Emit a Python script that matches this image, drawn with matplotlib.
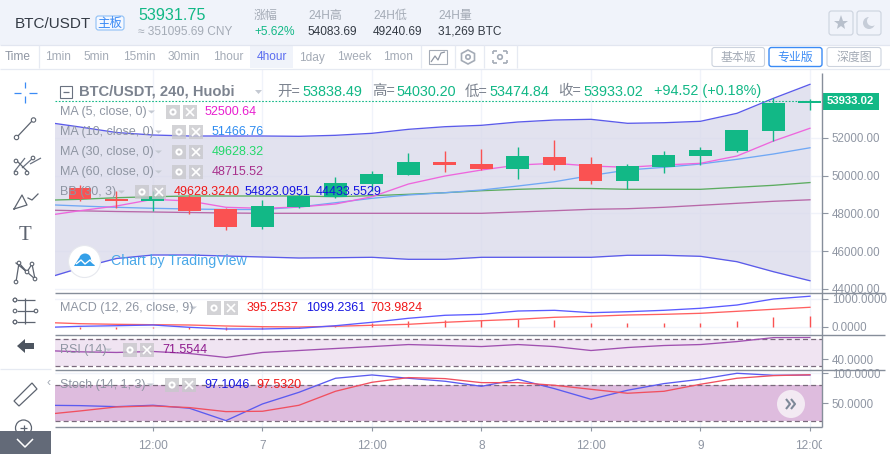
import numpy as np
import matplotlib
matplotlib.use('Agg')
import matplotlib.pyplot as plt
from matplotlib.patches import Rectangle, Circle, FancyBboxPatch, Polygon

plt.rcParams['font.family'] = ['Liberation Sans', 'Noto Sans CJK SC', 'DejaVu Sans']

# candles, one per 4 hours
opens = [49323, 48757, 48651, 48863, 48228, 47276, 48334, 48879, 49551, 50027, 50714,
         50609, 50344, 50979, 50609, 49710, 50450, 51032, 51296, 52354, 53838.49]
closes = [48757, 48651, 48879, 48107, 47276, 48387, 48916, 49604, 50080, 50714, 50556,
          50344, 51032, 50556, 49710, 50503, 51085, 51350, 52407, 53836, 53933.02]
highs = [49498, 49196, 49180, 48969, 48297, 48704, 49000, 49905, 50238, 51190, 51296,
         51402, 51508, 51878, 50979, 50609, 51296, 51508, 52407, 54100, 54030.20]
lows = [48651, 48265, 48117, 47964, 47117, 47170, 48300, 48800, 49200, 50027, 50185,
        50291, 49815, 50291, 49551, 49286, 50133, 50556, 51243, 51825, 53474.84]

# indicators start one bar before the first visible candle
bb_upper = [52841, 52566, 52275, 52143, 52090, 52090, 52090, 52074, 52127, 52233, 52444,
            52582, 52656, 52831, 52936, 52973, 52762, 52793, 52868, 53291, 54084, 54823]
bb_lower = [44525, 45107, 45610, 45795, 45795, 45742, 45689, 45636, 45652, 45673, 45567,
            45567, 45673, 45673, 45673, 45673, 45779, 45779, 45726, 45440, 44911, 44433]
ma5 = [47858, 48138, 48387, 48741, 48651, 48318, 48265, 48334, 48493, 48879, 49551,
       49974, 50291, 50556, 50646, 50503, 50434, 50556, 50646, 51032, 51825, 52500]
ma10 = [48466, 48387, 48318, 48265, 48228, 48202, 48202, 48334, 48561, 48794, 48969,
        49090, 49233, 49445, 49672, 50000, 50291, 50434, 50609, 50857, 51138, 51467]
ma30 = [48688, 48741, 48826, 48879, 48916, 48916, 48916, 48916, 48879, 48932, 49006,
        49090, 49196, 49270, 49323, 49313, 49270, 49270, 49270, 49376, 49482, 49628]
ma60 = [48175, 48133, 48096, 48070, 48043, 48017, 48001, 48001, 48001, 48001, 48001,
        48001, 48001, 48070, 48138, 48212, 48244, 48318, 48424, 48530, 48636, 48716]

macd = [-18, 25, 46, 71, -11, -71, -71, -46, 46, 168, 311,
        418, 453, 571, 596, 511, 546, 596, 668, 785, 1000, 1099]
signal = [164, 118, 96, 82, 71, 36, 11, 0, 25, 61, 96,
          168, 225, 275, 346, 382, 428, 453, 489, 560, 632, 704]
hist = [-83, -83, -40, -60, -100, -80, -45, 70, 143, 214, 262,
        250, 274, 250, 143, 143, 143, 143, 214, 357, 395]

rsi = [52.8, 50.9, 50, 51.4, 48.5, 42.8, 50, 52.8, 55.7, 58.5, 61.4,
       60, 58.5, 61.4, 58.5, 52.8, 57.1, 60, 61.4, 65.7, 71.4, 71.55]
stoch_k = [46.7, 46.1, 44.4, 46.7, 41.7, 21.1, 48.9, 68.3, 91.7, 97.2, 91.7,
           86.7, 78.3, 90, 74.4, 56.7, 71.7, 82.8, 90, 100, 96.7, 97.10]
stoch_d = [31.1, 37.2, 43.9, 45.6, 42.8, 36.1, 36.7, 46.7, 70, 85, 92.8,
           91.1, 84.4, 84.4, 80, 73.3, 66.7, 70, 81.7, 91.7, 96.1, 97.53]

time_ticks = [2, 5, 8, 11, 14, 17, 20]
time_labels = ['12:00', '7', '12:00', '8', '12:00', '9', '12:00']
price_ticks = [44000, 46000, 48000, 50000, 52000]
macd_ticks = [0, 1000]
rsi_ticks = [40]
stoch_ticks = [50, 100]

W, H = 890, 454
GREEN = '#12b886'
RED = '#fa5252'
GRAY = '#8f96a3'
GRID = '#f0f3fa'

fig = plt.figure(figsize=(W / 100, H / 100), dpi=100, facecolor='white')


def panel(top, bottom, ylim, ticks, fmt):
    ax = fig.add_axes([55 / W, 1 - bottom / H, (822 - 55) / W, (bottom - top) / H])
    ax.set_xlim(-0.685, 20.33)
    ax.set_ylim(*ylim)
    ax.set_axisbelow(True)
    ax.grid(True, color=GRID, lw=1)
    for s in ax.spines.values():
        s.set_visible(False)
    ax.yaxis.tick_right()
    ax.set_yticks(ticks, labels=[fmt % t for t in ticks])
    ax.set_xticks(time_ticks, labels=[])
    ax.tick_params(axis='y', length=4, width=0.8, color=GRAY, labelcolor=GRAY, labelsize=8.3, pad=3)
    ax.tick_params(axis='x', length=0)
    return ax


x_bars = np.arange(len(opens))
x_lines = np.arange(-1, len(opens))

# main price panel
ax = panel(69, 292.5, (43811, 55635), price_ticks, '%.2f')
ax.fill_between(x_lines, bb_lower, bb_upper, color='#d9d9ea', alpha=0.75, lw=0, zorder=1)
ax.plot(x_lines, bb_upper, color='#5b5bea', lw=0.95, zorder=2)
ax.plot(x_lines, bb_lower, color='#5b5bea', lw=0.95, zorder=2)
ax.plot(x_lines, ma60, color='#b868a8', lw=0.95, zorder=2)
ax.plot(x_lines, ma30, color='#5cac60', lw=0.95, zorder=2)
ax.plot(x_lines, ma10, color='#70a8f5', lw=0.95, zorder=2)
ax.plot(x_lines, ma5, color='#ee66dd', lw=0.95, zorder=2)
o = np.array(opens)
c = np.array(closes)
colors = [GREEN if up else RED for up in c >= o]
ax.vlines(x_bars, lows, highs, colors=colors, lw=1, zorder=3)
ax.bar(x_bars, np.abs(c - o), bottom=np.minimum(o, c), width=0.63, color=colors, lw=0, zorder=3)
ax.axhline(closes[-1], color=GREEN, lw=0.8, ls=(0, (1.5, 1.5)), zorder=4)

# MACD
ax2 = panel(292.5, 334.5, (-268, 1232), macd_ticks, '%.4f')
ax2.vlines(x_bars, 0, hist, colors=RED, lw=1)
ax2.plot(x_lines, signal, color='#ff6060', lw=0.95)
ax2.plot(x_lines, macd, color='#5b5bff', lw=0.95)

# RSI
ax3 = panel(334.5, 369.5, (25.4, 75.9), rsi_ticks, '%.4f')
ax3.axhspan(30, 70, color='#f0e4f2', lw=0, zorder=1)
for lvl in (30, 70):
    ax3.axhline(lvl, color='#7a6a7c', lw=0.9, ls=(0, (4, 2.5)), zorder=2)
ax3.plot(x_lines, rsi, color='#a050b0', lw=0.95, zorder=3)

# Stoch
ax4 = panel(369.5, 426.5, (11.3, 106.3), stoch_ticks, '%.4f')
ax4.axhspan(20, 80, color='#debcde', lw=0, zorder=1)
for lvl in (20, 80):
    ax4.axhline(lvl, color='#7a6a7c', lw=0.9, ls=(0, (4, 2.5)), zorder=2)
ax4.plot(x_lines, stoch_k, color='#5b5bf0', lw=0.95, zorder=3)
ax4.plot(x_lines, stoch_d, color='#f05060', lw=0.95, zorder=3)
ax4.set_xticks(time_ticks, labels=time_labels)
ax4.tick_params(axis='x', length=3, width=0.8, color=GRAY, labelcolor=GRAY, labelsize=8.6, pad=7)

# page chrome in pixel coordinates, on top of the panels
ui = fig.add_axes([0, 0, 1, 1], zorder=10)
ui.set_xlim(0, W)
ui.set_ylim(H, 0)
ui.axis('off')


def txt(x, y, s, color=GRAY, size=8.6, **kw):
    kw.setdefault('va', 'center')
    ui.text(x, y, s, color=color, fontsize=size, **kw)


def rect(x0, y0, x1, y1, fc='none', ec='none', lw=0.8, alpha=None, rounded=False):
    if rounded:
        p = FancyBboxPatch((x0, y0), x1 - x0, y1 - y0, boxstyle='round,pad=0,rounding_size=2.5',
                           fc=fc, ec=ec, lw=lw, alpha=alpha)
    else:
        p = Rectangle((x0, y0), x1 - x0, y1 - y0, fc=fc, ec=ec, lw=lw, alpha=alpha)
    ui.add_patch(p)


def line(xs, ys, color='#6a7280', lw=0.9, **kw):
    ui.plot(xs, ys, color=color, lw=lw, solid_capstyle='butt', **kw)


def node(x, y, r=2.2, ec='#5d6470'):
    ui.add_patch(Circle((x, y), r, fc='white', ec=ec, lw=0.8, zorder=5))


# header band
rect(0, 0, W, 44.5, fc='#f0f3fa')
line([0, W], [44.5, 44.5], color='#e2e6f0')
txt(15, 23.5, 'BTC/USDT', '#333a44', 11)
rect(96, 16, 124, 30, fc='#f5f8ff', ec='#8fc0f5', rounded=True)
txt(110, 23.5, '主板', '#3b8bf5', 9, ha='center')
txt(138, 16, '53931.75', GREEN, 11.6)
txt(138, 32, '≈ 351095.69 CNY', '#a4abb6', 8.6)
for x, head, val, col in [(254, '涨幅', '+5.62%', GREEN), (308, '24H高', '54083.69', '#333a44'),
                          (373, '24H低', '49240.69', '#333a44'), (438, '24H量', '31,269 BTC', '#333a44')]:
    txt(x, 16, head, '#a4abb6', 8.6)
    txt(x, 32, val, col, 8.6)
rect(829, 11, 853, 35, ec='#ccd3de', rounded=True)
rect(857, 11, 881, 35, ec='#ccd3de', rounded=True)
ui.plot([841], [23], marker='*', ms=11, color='#b8c0cc', mew=0)
ui.add_patch(Circle((869, 23), 6, fc='#c6cdd8', ec='none'))
ui.add_patch(Circle((872, 21), 5, fc='#f0f3fa', ec='none'))

# interval toolbar
rect(250, 45, 293, 68, fc='#f0f3fa')
txt(5, 57.5, 'Time')
for x, s in [(45, '1min'), (84, '5min'), (123, '15min'), (168, '30min'), (213, '1hour'),
             (299, '1day'), (337, '1week'), (383, '1mon')]:
    txt(x, 57.5, s, '#a4abb6')
txt(257, 57.5, '4hour', '#5a6cf0')
for x in (39, 421, 455, 484, 517):
    line([x, x], [45, 68], color='#e6eaf2')
line([0, W], [68.5, 68.5], color='#e6eaf2')
rect(429, 50, 447, 64, ec='#a4abb6')
line([431, 435, 438, 441, 445], [62, 56, 60, 53, 52], color='#8f96a3')
ui.add_patch(Polygon([(468, 50), (474.5, 53.5), (474.5, 60.5), (468, 64), (461.5, 60.5), (461.5, 53.5)],
                     fc='none', ec='#a4abb6', lw=1.2))
ui.add_patch(Circle((468, 57), 2.2, fc='none', ec='#a4abb6', lw=1.2))
for sx, ex in ((493, 497), (507, 503)):
    for sy, ey in ((51, 54), (63, 60)):
        line([sx, sx], [sy, ey], color='#a4abb6', lw=1.2)
        line([sx, ex], [sy, sy], color='#a4abb6', lw=1.2)
ui.add_patch(Circle((500, 57), 2.3, fc='none', ec='#a4abb6', lw=1.2))
rect(712, 47.5, 764.5, 66.5, ec='#ccd3de', rounded=True)
rect(769, 47.5, 822, 66.5, ec='#3b8bf5', lw=1, rounded=True)
rect(827, 47.5, 881, 66.5, ec='#ccd3de', rounded=True)
txt(738, 57.5, '基本版', '#a4abb6', 8.6, ha='center')
txt(795.5, 57.5, '专业版', '#3b8bf5', 8.6, ha='center')
txt(854, 57.5, '深度图', '#a4abb6', 8.6, ha='center')

# panel borders and price axis
line([822, 822], [73, 426.5], color='#868e9a', lw=1)
for y in (292.5, 334.5, 369.5):
    line([55, 885], [y, y], color='#868e9a', lw=1)
line([55, 822], [426.5, 426.5], color='#868e9a', lw=1)
rect(822, 430, W, H, fc='white')

# last price tag
rect(822, 93, 879, 110, fc=GREEN)
txt(850.5, 101.5, '53933.02', 'white', 8.2, ha='center', fontweight='bold')

# title row
rect(60, 86, 72, 98, ec='#6a7280')
line([63, 69], [92, 92])
txt(79, 92, 'BTC/USDT, 240, Huobi', '#7c838f', 10.6, fontweight='bold')
ui.add_patch(Polygon([(255, 90), (262, 90), (258.5, 94)], fc='#c4c9d2', ec='none'))
for x, s, col in [(277, '开=', '#7c838f'), (302, '53838.49', GREEN), (372, '高=', '#7c838f'), (396, '54030.20', GREEN),
                  (465, '低=', '#7c838f'), (489, '53474.84', GREEN), (558, '收=', '#7c838f'), (583, '53933.02', GREEN),
                  (654, '+94.52 (+0.18%)', GREEN)]:
    txt(x, 91.5, s, col, 10.4)


def legend_row(y, name, box_x, vals, tail_x=None):
    txt(60, y, name, '#8f96a3', 9)
    if tail_x:
        ui.add_patch(Polygon([(tail_x, y - 1.5), (tail_x + 7, y - 1.5), (tail_x + 3.5, y + 1.5)], fc='#c4c9d2', ec='none'))
    rect(box_x, y - 7, box_x + 14, y + 7, fc='#c8c8cc', alpha=0.8)
    rect(box_x + 17, y - 7, box_x + 31, y + 7, fc='#c8c8cc', alpha=0.8)
    ui.add_patch(Circle((box_x + 7, y), 3.6, fc='white', ec='none'))
    ui.add_patch(Circle((box_x + 7, y), 1.5, fc='#c8c8cc', ec='none'))
    line([box_x + 20, box_x + 28], [y - 4, y + 4], color='white', lw=1.2)
    line([box_x + 20, box_x + 28], [y + 4, y - 4], color='white', lw=1.2)
    for x, s, col in vals:
        txt(x, y, s, col, 9)


legend_row(112, 'MA (5, close, 0)', 166, [(205, '52500.64', '#e81fd0')], 148)
legend_row(132, 'MA (10, close, 0)', 172, [(212, '51466.76', '#2f8cf0')], 155)
legend_row(152, 'MA (30, close, 0)', 172, [(212, '49628.32', '#22d86a')], 155)
legend_row(172, 'MA (60, close, 0)', 172, [(212, '48715.52', '#a8308c')], 155)
legend_row(192, 'BB (30, 3)', 135, [(174, '49628.3240', '#f01818'), (245, '54823.0951', '#1515e0'),
                                     (316, '44433.5529', '#1515e0')], 118)
legend_row(308, 'MACD (12, 26, close, 9)', 207, [(247, '395.2537', '#f01818'), (306, '1099.2361', '#1515e0'),
                                                  (370, '703.9824', '#f01818')], 190)
legend_row(350, 'RSI (14)', 123, [(162, '71.5544', '#8e1a8e')], 105)
legend_row(385, 'Stoch (14, 1, 3)', 165, [(204, '97.1046', '#1515e0'), (256, '97.5320', '#f01818')], 147)

# tradingview badge
ui.add_patch(Circle((84.5, 261.5), 16, fc='white', ec='#e6e8ee', lw=0.8))
ui.add_patch(Circle((85, 259.5), 6, fc='#35a0e8', ec='none'))
ui.add_patch(Polygon([(74, 266), (79, 258), (85, 263), (90, 258), (95, 266)], fc='#35a0e8', ec='none'))
line([76, 81, 85, 90, 94], [264, 260, 264, 260, 264], color='white', lw=1)
txt(111, 261, 'Chart by TradingView', '#4aa8e8', 10.2)

# scroll button
ui.add_patch(Circle((791, 404), 14, fc='#f3eaf3', ec='none'))
line([786, 790, 786], [399, 404, 409], color='#7d8898', lw=1.5)
line([791, 795, 791], [399, 404, 409], color='#7d8898', lw=1.5)

# drawing tools on the left
ICON = '#5d6470'
line([25, 25], [82, 88], color='#3b8bf5')
line([25, 25], [96, 103], color='#3b8bf5')
line([14, 21], [93, 93], color='#3b8bf5')
line([29, 37], [93, 93], color='#3b8bf5')
line([17, 33], [137, 120], color=ICON)
node(16.5, 137.5)
node(33.5, 120)
for dx in (0, 8, 16):
    line([17 + dx - 3, 25 + dx], [172 - dx / 2, 158])
line([16, 28], [160, 172], color=ICON)
for px, py in [(16, 161), (16, 173), (27, 173), (33, 158)]:
    node(px, py, 1.8)
ui.plot([14, 22, 27, 14], [209, 195, 205, 209], color=ICON, lw=0.9)
ui.plot([28, 32, 38], [198, 200, 194], color=ICON, lw=0.9)
txt(25, 236, 'T', ICON, 15, ha='center', family='Liberation Serif')
ui.plot([16, 19, 27, 32, 35, 27, 16], [282, 263, 272, 264, 279, 272, 263], color=ICON, lw=0.9)
for px, py in [(16, 282), (19, 263), (27, 272), (32, 264), (35, 279)]:
    node(px, py, 1.8)
for yy in (300, 311, 322):
    line([17, 35], [yy, yy], color=ICON)
    node(15, yy, 1.8)
    node(36 if yy == 311 else 15, yy, 1.8)
line([25, 25], [298, 324], color=ICON)
ui.add_patch(Polygon([(17, 346), (25, 339), (25, 343), (34, 343), (34, 349), (25, 349), (25, 353)], fc='#4d5560', ec='none'))
line([0, 51], [369, 369], color='#e6eaf2')
txt(49, 383, '‹', '#a4abb6', 9, ha='center')
ui.add_patch(Polygon([(14, 401), (32, 383), (37, 389), (19, 406)], fc='none', ec=ICON, lw=0.9))
ui.add_patch(Circle((23.5, 428), 8, fc='white', ec=ICON, lw=0.9))
line([20, 27], [428, 428], color=ICON)
line([23.5, 23.5], [424.5, 431.5], color=ICON)
rect(0, 431, 51, H, fc='#636a78')
line([17, 25, 33], [439, 447, 439], color='white', lw=1.1)

fig.savefig('out.png', dpi=100)
